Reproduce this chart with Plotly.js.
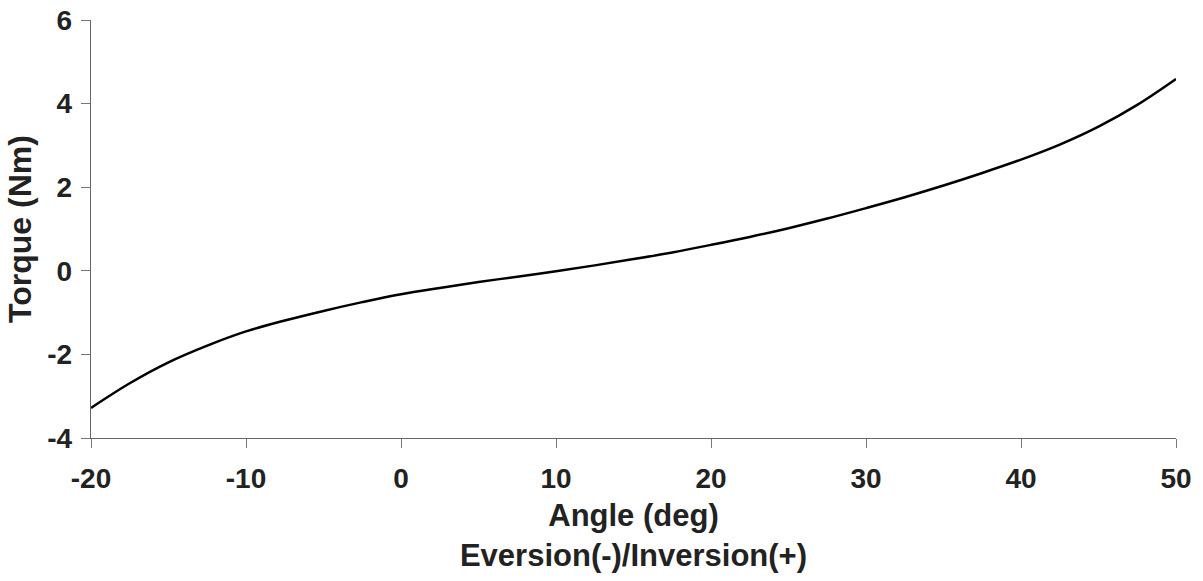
<!DOCTYPE html>
<html>
<head>
<meta charset="utf-8">
<script src="https://cdn.plot.ly/plotly-3.0.1.min.js"></script>
<style>html,body{margin:0;padding:0;background:#fff;}#chart{width:1203px;height:581px;}</style>
</head>
<body>
<div id="chart"></div>
<script>
// Angle (deg), Eversion(-)/Inversion(+)
var angle = [-20, -17.5, -15, -12.5, -10, -7.5, -5, -2.5, 0, 2.5, 5, 7.5, 10, 12.5, 15, 17.5, 20, 22.5, 25, 27.5, 30, 32.5, 35, 37.5, 40, 42.5, 45, 47.5, 50];
// Torque (Nm)
var torque = [-3.28, -2.69, -2.19, -1.79, -1.45, -1.19, -0.96, -0.75, -0.56, -0.41, -0.27, -0.14, -0.01, 0.13, 0.28, 0.44, 0.62, 0.81, 1.02, 1.25, 1.50, 1.76, 2.04, 2.34, 2.66, 3.02, 3.45, 3.97, 4.59];
var xTicks = [-20, -10, 0, 10, 20, 30, 40, 50];
var yTicks = [-4, -2, 0, 2, 4, 6];

var trace = {
  x: angle, y: torque, type: 'scatter', mode: 'lines',
  line: {color: '#000', width: 2.5, shape: 'spline', smoothing: 1},
  hoverinfo: 'skip'
};
var fontFam = 'Liberation Sans, Arial, sans-serif';
var layout = {
  width: 1203, height: 581,
  margin: {l: 91, r: 27, t: 20, b: 143},
  paper_bgcolor: '#fff', plot_bgcolor: '#fff',
  showlegend: false,
  font: {family: fontFam, color: '#222'},
  xaxis: {
    range: [-20, 50], tickvals: xTicks, ticktext: xTicks.map(String),
    showline: true, linecolor: '#666', linewidth: 1.2,
    ticks: 'outside', ticklen: 9, tickcolor: '#777', tickwidth: 1,
    ticklabelstandoff: 6,
    showgrid: false, zeroline: false,
    tickfont: {family: fontFam, size: 28, weight: 'bold', color: '#222'},
    title: {text: '<b>Angle (deg)</b><br><b>Eversion(-)/Inversion(+)</b>', font: {family: fontFam, size: 31, color: '#222'}, standoff: 11}
  },
  yaxis: {
    range: [-4, 6], tickvals: yTicks, ticktext: yTicks.map(String),
    showline: true, linecolor: '#666', linewidth: 1.2,
    ticks: 'outside', ticklen: 9, tickcolor: '#777', tickwidth: 1,
    ticklabelstandoff: 3,
    showgrid: false, zeroline: false,
    tickfont: {family: fontFam, size: 28, weight: 'bold', color: '#222'},
    title: {text: '<b>Torque (Nm)</b>', font: {family: fontFam, size: 32, color: '#222'}, standoff: 6}
  }
};
Plotly.newPlot('chart', [trace], layout, {staticPlot: true, displayModeBar: false});
</script>
</body>
</html>
